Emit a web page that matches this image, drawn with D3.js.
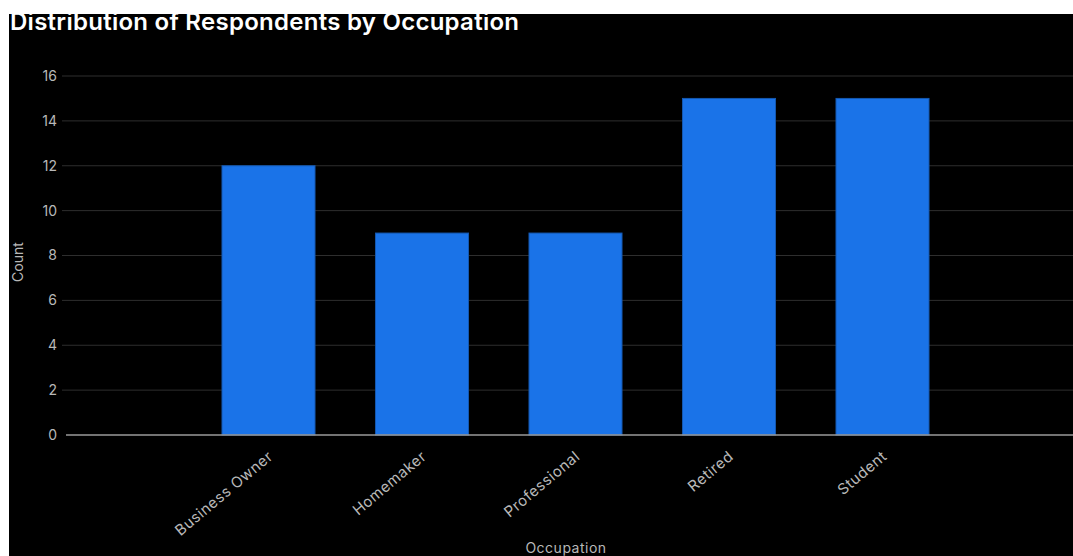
<!DOCTYPE html>
<html>
<head>
<meta charset="utf-8">
<script src="https://cdn.jsdelivr.net/npm/d3@7"></script>
<style>
  html, body { margin: 0; padding: 0; background: #fff; }
  svg { display: block; }
</style>
</head>
<body>
<svg id="chart" width="1073" height="556"></svg>
<script>
// Respondent counts per occupation
const categories = ["Business Owner", "Homemaker", "Professional", "Retired", "Student"];
const counts = [12, 9, 9, 15, 15];
const yTicks = [0, 2, 4, 6, 8, 10, 12, 14, 16];

const W = 1073, H = 556;
const svg = d3.select("#chart");
const font = "Inter, 'DejaVu Sans', sans-serif";

// dark panel
svg.append("rect").attr("x", 9).attr("y", 14).attr("width", W - 9).attr("height", H - 14).attr("fill", "#000");

const plot = { left: 62, right: 1073, top: 76, bottom: 435 };

const y = d3.scaleLinear().domain([0, 16]).range([plot.bottom, plot.top]);
const x = d3.scaleBand().domain(categories)
  .range([191.75, 959.25]).paddingInner(0.394).paddingOuter(0.197);

// gridlines
svg.append("g").selectAll("line").data(yTicks.filter(d => d > 0)).join("line")
  .attr("x1", plot.left).attr("x2", plot.right)
  .attr("y1", d => y(d)).attr("y2", d => y(d))
  .attr("stroke", "#2e2e2e").attr("stroke-width", 1);

// y axis labels
const yAxis = svg.append("g").attr("transform", `translate(${plot.left},0)`)
  .call(d3.axisLeft(y).tickValues(yTicks).tickSize(0).tickPadding(5));
yAxis.select(".domain").remove();
yAxis.selectAll("text").attr("fill", "#b8b8b8").style("font-family", font).style("font-size", "14px");

// bars
svg.append("g").selectAll("rect").data(categories).join("rect")
  .attr("x", d => x(d)).attr("width", x.bandwidth())
  .attr("y", (d, i) => y(counts[i]))
  .attr("height", (d, i) => y(0) - y(counts[i]))
  .attr("fill", "#1a73e8").attr("stroke", "#1558b0").attr("stroke-width", 1);

// baseline
svg.append("line").attr("x1", plot.left + 4).attr("x2", plot.right)
  .attr("y1", y(0)).attr("y2", y(0)).attr("stroke", "#9a9a9a").attr("stroke-width", 1.5);

// x axis labels, rotated
const xAxis = svg.append("g").attr("transform", `translate(0,${plot.bottom})`)
  .call(d3.axisBottom(x).tickSize(0).tickPadding(0));
xAxis.select(".domain").remove();
xAxis.selectAll("text")
  .attr("fill", "#b8b8b8").style("font-family", font).style("font-size", "15px")
  .style("letter-spacing", "0.5px")
  .attr("text-anchor", "end")
  .attr("y", 0)
  .attr("transform", "translate(2,19) rotate(-40)")
  .attr("dy", "0.35em");

// axis titles
svg.append("text").attr("x", 566).attr("y", 553).attr("text-anchor", "middle")
  .attr("fill", "#b8b8b8").style("font-family", font).style("font-size", "14px")
  .style("letter-spacing", "0.5px").text("Occupation");
svg.append("text").attr("transform", "translate(23,262) rotate(-90)").attr("text-anchor", "middle")
  .attr("fill", "#b8b8b8").style("font-family", font).style("font-size", "14px").text("Count");

// title
svg.append("text").attr("x", 10).attr("y", 30)
  .attr("fill", "#fff").style("font-family", font).style("font-size", "24px").style("font-weight", "600")
  .attr("textLength", 509).attr("lengthAdjust", "spacing")
  .text("Distribution of Respondents by Occupation");

// white strip over the top edge of the title
svg.append("rect").attr("x", 0).attr("y", 0).attr("width", W).attr("height", 14).attr("fill", "#fff");
</script>
</body>
</html>
